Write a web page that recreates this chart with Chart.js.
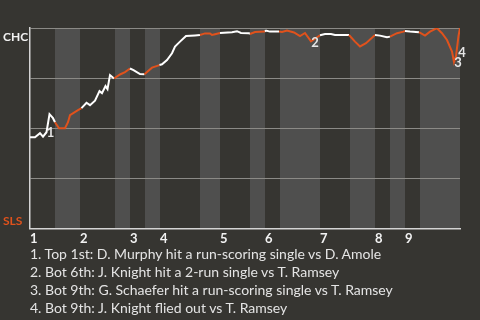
<!DOCTYPE html>
<html>
<head>
<meta charset="utf-8">
<script src="https://cdn.jsdelivr.net/npm/chart.js@4.4.1/dist/chart.umd.min.js"></script>
<style>
  html, body { margin: 0; padding: 0; background: #363531; }
  #wrap { position: relative; width: 480px; height: 320px; overflow: hidden; }
  #notes { position: absolute; left: 30px; top: 245px; margin: 0; padding: 0; list-style: none;
           font: 14px Lato, sans-serif; color: #e4e4e4; line-height: 18px; white-space: nowrap; }
</style>
</head>
<body>
<div id="wrap">
  <canvas id="wpChart" width="480" height="320"></canvas>
  <ul id="notes"></ul>
</div>
<script>
// innings and how many plays each half inning took (top, bottom, top, ...)
const innings = ['1', '2', '3', '4', '5', '6', '7', '8', '9'];
const halfPlays = [5, 5, 7, 3, 3, 3, 8, 4, 6, 3, 3, 8, 6, 5, 3, 3, 3, 8];
const teams = ['CHC', 'SLS'];

// game progress (in plays) and CHC win probability (%)
const progress = [0, 1, 2, 2.6, 3.3, 3.9, 4.6, 5, 5.8, 7, 7.6, 8, 9.6, 10.3, 11.3, 12, 13, 13.9, 14.4, 15.1,
  15.5, 16, 16.8, 18, 19, 20, 20.7, 22, 22.9, 24.4, 25.9, 26.4, 27.4, 28.4, 29, 30, 31.2, 33, 34, 35,
  36, 36.4, 37, 38, 40.4, 41.4, 42.2, 43.8, 44, 45, 47, 47.2, 48, 49.8, 50.4, 51.4, 52.8, 54, 55, 56.2,
  58, 59, 60.2, 61, 63.8, 65, 66, 67.2, 69, 70, 71.4, 72, 73.4, 74.7, 75, 76, 77.8, 79, 80, 81.4,
  82.4, 83.4, 84.4, 84.8, 85.2, 85.7, 86];
const chcWinPct = [45.5, 45.5, 47.5, 45.8, 48, 57, 55, 53, 50, 50, 53, 56.5, 59, 60, 62.7, 61.5, 63.7, 68.5, 67.5, 71,
  69.5, 76.5, 74.8, 76.8, 78, 79.8, 79, 77, 76.9, 80.2, 81.5, 81.9, 84, 87.4, 90.7, 93.2, 96, 96.3, 96.5, 97.3,
  97.3, 96.5, 96.9, 97.5, 97.9, 98.4, 97.5, 97.4, 97, 98, 98.3, 98.7, 98.2, 98.2, 98, 98.7, 97.8, 96, 97.5, 93.3,
  96.4, 97, 97, 96.5, 96.5, 93.2, 90.8, 92.4, 96.5, 96.2, 95.4, 95.7, 97.4, 98.2, 98.5, 98.2, 97.9, 96.2, 98.2, 99.9,
  97.4, 94, 88.2, 83, 86, 96, 100];

// key moments: point index and description
const momentPoint = [4, 59, 83, 84];
const momentText = [
  'Top 1st: D. Murphy hit a run-scoring single vs D. Amole',
  'Bot 6th: J. Knight hit a 2-run single vs T. Ramsey',
  'Bot 9th: G. Schaefer hit a run-scoring single vs T. Ramsey',
  'Bot 9th: J. Knight flied out vs T. Ramsey'
];

const WHITE = '#ffffff';
const ORANGE = '#e0521c';
const BAND = '#4f4f4e';

const edges = [0];
halfPlays.forEach(n => edges.push(edges[edges.length - 1] + n));
const inningStart = innings.map((_, i) => edges[i * 2]);

function isBottom(x) {
  for (let h = 0; h < halfPlays.length; h++) {
    if (x >= edges[h] && x < edges[h + 1]) return h % 2 === 1;
  }
  return true;
}

const bands = {
  id: 'bands',
  beforeDraw(chart) {
    const {ctx, chartArea: a, scales: {x}} = chart;
    ctx.save();
    ctx.fillStyle = BAND;
    for (let h = 1; h < halfPlays.length; h += 2) {
      const x0 = x.getPixelForValue(edges[h]);
      const x1 = x.getPixelForValue(edges[h + 1]);
      ctx.fillRect(x0, a.top, x1 - x0, a.bottom - a.top);
    }
    ctx.restore();
  }
};

const labels = {
  id: 'labels',
  afterDatasetsDraw(chart) {
    const {ctx, scales: {x, y}} = chart;
    ctx.save();
    ctx.font = 'bold 12px Lato, sans-serif';
    ctx.textAlign = 'left';
    ctx.fillStyle = '#f2f2f2';
    ctx.textBaseline = 'top';
    ctx.fillText(teams[0], 3, y.getPixelForValue(100) + 3);
    ctx.fillStyle = ORANGE;
    ctx.textBaseline = 'bottom';
    ctx.fillText(teams[1], 3, y.getPixelForValue(0) - 1);

    ctx.font = 'bold 13px Lato, sans-serif';
    ctx.textAlign = 'center';
    ctx.textBaseline = 'middle';
    ctx.fillStyle = '#e6e6e6';
    momentPoint.forEach((p, i) => {
      const last = i === momentPoint.length - 1;
      ctx.fillText(String(i + 1), x.getPixelForValue(progress[p]) + (last ? 6 : 4),
        y.getPixelForValue(chcWinPct[p]) + (last ? -3 : 1));
    });
    ctx.restore();
  }
};

new Chart(document.getElementById('wpChart'), {
  type: 'line',
  data: {
    datasets: [{
      data: progress.map((p, i) => ({x: p, y: chcWinPct[i]})),
      borderWidth: 2,
      pointRadius: 0,
      tension: 0,
      borderColor: WHITE,
      segment: {
        borderColor: c => isBottom((c.p0.parsed.x + c.p1.parsed.x) / 2) ? ORANGE : WHITE
      }
    }]
  },
  options: {
    responsive: false,
    animation: false,
    devicePixelRatio: 1,
    layout: {padding: {left: 30, right: 20, top: 28, bottom: 70}},
    plugins: {legend: {display: false}, tooltip: {enabled: false}},
    scales: {
      x: {
        type: 'linear',
        min: 0,
        max: edges[edges.length - 1],
        afterBuildTicks: axis => { axis.ticks = inningStart.map(v => ({value: v})); },
        grid: {display: false, drawTicks: false},
        border: {color: '#d4d4d4', width: 1.5},
        ticks: {
          autoSkip: false,
          align: 'start',
          padding: 3,
          color: '#f2f2f2',
          font: {family: 'Lato', size: 13, weight: 'bold'},
          callback: (v, i) => innings[i]
        }
      },
      y: {
        min: 0,
        max: 100,
        afterBuildTicks: axis => { axis.ticks = [0, 25, 50, 75, 100].map(v => ({value: v})); },
        grid: {color: '#8b8a86', lineWidth: 1, drawTicks: false},
        border: {color: '#d4d4d4', width: 1.5},
        ticks: {display: false}
      }
    }
  },
  plugins: [bands, labels]
});

const notes = document.getElementById('notes');
momentText.forEach((t, i) => {
  const li = document.createElement('li');
  li.textContent = (i + 1) + '. ' + t;
  notes.appendChild(li);
});
</script>
</body>
</html>
